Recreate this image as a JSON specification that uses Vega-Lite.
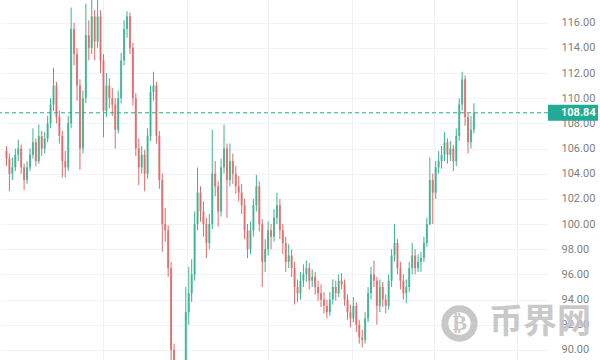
{
  "$schema": "https://vega.github.io/schema/vega-lite/v6.json",
  "width": 548,
  "height": 360,
  "autosize": {"type": "none"},
  "padding": {"left": 0, "top": 0, "right": 52, "bottom": 0},
  "background": "#ffffff",
  "config": {"view": {"stroke": null}, "axisY": {"labelOverlap": false, "labelSeparation": 0}},
  "datasets": {
    "candles": [
      {"i":0,"o":105.8,"h":106.2,"l":104.6,"c":105.2},
      {"i":1,"o":105.2,"h":105.6,"l":102.6,"c":104.0},
      {"i":2,"o":104.0,"h":105.3,"l":103.5,"c":104.5},
      {"i":3,"o":104.5,"h":106.0,"l":104.2,"c":105.5},
      {"i":4,"o":105.5,"h":106.7,"l":105.0,"c":106.0},
      {"i":5,"o":106.0,"h":106.3,"l":104.0,"c":104.5},
      {"i":6,"o":104.5,"h":104.8,"l":102.7,"c":103.5},
      {"i":7,"o":103.5,"h":105.0,"l":103.2,"c":104.5},
      {"i":8,"o":104.5,"h":106.0,"l":104.2,"c":105.5},
      {"i":9,"o":105.5,"h":107.6,"l":105.2,"c":106.5},
      {"i":10,"o":106.5,"h":106.8,"l":104.6,"c":105.0},
      {"i":11,"o":105.0,"h":107.9,"l":104.8,"c":107.0},
      {"i":12,"o":107.0,"h":107.4,"l":105.4,"c":106.0},
      {"i":13,"o":106.0,"h":107.3,"l":105.6,"c":106.8},
      {"i":14,"o":106.8,"h":108.6,"l":106.5,"c":108.0},
      {"i":15,"o":108.0,"h":110.0,"l":107.6,"c":109.5},
      {"i":16,"o":109.5,"h":112.4,"l":109.0,"c":111.0},
      {"i":17,"o":111.0,"h":111.3,"l":108.0,"c":108.5},
      {"i":18,"o":108.5,"h":109.0,"l":106.4,"c":107.0},
      {"i":19,"o":107.0,"h":107.4,"l":103.7,"c":105.0},
      {"i":20,"o":105.0,"h":105.8,"l":103.7,"c":104.5},
      {"i":21,"o":104.5,"h":108.6,"l":104.2,"c":108.0},
      {"i":22,"o":108.0,"h":117.2,"l":107.6,"c":115.5},
      {"i":23,"o":115.5,"h":116.0,"l":112.6,"c":113.5},
      {"i":24,"o":113.5,"h":114.0,"l":109.8,"c":111.0},
      {"i":25,"o":111.0,"h":111.5,"l":104.3,"c":106.0},
      {"i":26,"o":106.0,"h":110.6,"l":105.6,"c":110.0},
      {"i":27,"o":110.0,"h":117.5,"l":109.6,"c":115.0},
      {"i":28,"o":115.0,"h":116.2,"l":113.0,"c":114.0},
      {"i":29,"o":114.0,"h":118.2,"l":113.5,"c":116.5},
      {"i":30,"o":116.5,"h":117.0,"l":113.0,"c":114.5},
      {"i":31,"o":114.5,"h":118.2,"l":114.0,"c":116.5},
      {"i":32,"o":116.5,"h":117.0,"l":112.0,"c":113.0},
      {"i":33,"o":113.0,"h":113.5,"l":106.9,"c":109.0},
      {"i":34,"o":109.0,"h":112.0,"l":108.5,"c":111.0},
      {"i":35,"o":111.0,"h":111.6,"l":109.2,"c":110.0},
      {"i":36,"o":110.0,"h":110.8,"l":108.6,"c":109.5},
      {"i":37,"o":109.5,"h":110.0,"l":106.0,"c":107.5},
      {"i":38,"o":107.5,"h":110.6,"l":107.2,"c":110.0},
      {"i":39,"o":110.0,"h":113.6,"l":109.6,"c":113.0},
      {"i":40,"o":113.0,"h":116.2,"l":112.6,"c":115.5},
      {"i":41,"o":115.5,"h":116.9,"l":114.8,"c":116.5},
      {"i":42,"o":116.5,"h":116.8,"l":113.5,"c":114.0},
      {"i":43,"o":114.0,"h":114.4,"l":109.4,"c":110.0},
      {"i":44,"o":110.0,"h":110.4,"l":105.4,"c":106.0},
      {"i":45,"o":106.0,"h":106.8,"l":103.1,"c":104.5},
      {"i":46,"o":104.5,"h":106.2,"l":104.0,"c":105.5},
      {"i":47,"o":105.5,"h":105.9,"l":102.6,"c":104.0},
      {"i":48,"o":104.0,"h":107.6,"l":103.6,"c":107.0},
      {"i":49,"o":107.0,"h":111.0,"l":106.6,"c":110.5},
      {"i":50,"o":110.5,"h":112.1,"l":109.8,"c":111.0},
      {"i":51,"o":111.0,"h":111.3,"l":106.4,"c":107.0},
      {"i":52,"o":107.0,"h":107.4,"l":102.8,"c":103.5},
      {"i":53,"o":103.5,"h":104.0,"l":97.8,"c":100.0},
      {"i":54,"o":100.0,"h":101.3,"l":98.6,"c":99.5},
      {"i":55,"o":99.5,"h":99.9,"l":95.8,"c":96.5},
      {"i":56,"o":96.5,"h":97.0,"l":88.5,"c":90.0},
      {"i":57,"o":90.0,"h":90.5,"l":87.0,"c":88.0},
      {"i":58,"o":88.0,"h":88.8,"l":86.5,"c":87.5},
      {"i":59,"o":87.5,"h":88.5,"l":86.2,"c":87.0},
      {"i":60,"o":87.0,"h":89.0,"l":86.5,"c":88.5},
      {"i":61,"o":88.5,"h":95.0,"l":88.0,"c":93.0},
      {"i":62,"o":93.0,"h":96.6,"l":92.0,"c":94.5},
      {"i":63,"o":94.5,"h":97.2,"l":93.8,"c":96.0},
      {"i":64,"o":96.0,"h":101.0,"l":95.5,"c":100.0},
      {"i":65,"o":100.0,"h":104.5,"l":99.5,"c":102.5},
      {"i":66,"o":102.5,"h":103.0,"l":100.2,"c":101.0},
      {"i":67,"o":101.0,"h":101.8,"l":99.0,"c":100.0},
      {"i":68,"o":100.0,"h":100.5,"l":97.3,"c":98.5},
      {"i":69,"o":98.5,"h":100.8,"l":98.0,"c":100.0},
      {"i":70,"o":100.0,"h":107.5,"l":99.6,"c":104.0},
      {"i":71,"o":104.0,"h":105.0,"l":102.2,"c":103.0},
      {"i":72,"o":103.0,"h":103.4,"l":99.8,"c":101.0},
      {"i":73,"o":101.0,"h":105.2,"l":100.6,"c":104.5},
      {"i":74,"o":104.5,"h":107.9,"l":104.0,"c":106.0},
      {"i":75,"o":106.0,"h":106.4,"l":100.5,"c":103.5},
      {"i":76,"o":103.5,"h":106.4,"l":103.0,"c":105.0},
      {"i":77,"o":105.0,"h":105.6,"l":103.2,"c":104.0},
      {"i":78,"o":104.0,"h":104.6,"l":102.4,"c":103.0},
      {"i":79,"o":103.0,"h":103.8,"l":101.8,"c":102.5},
      {"i":80,"o":102.5,"h":103.2,"l":100.8,"c":101.5},
      {"i":81,"o":101.5,"h":102.0,"l":98.8,"c":99.5},
      {"i":82,"o":99.5,"h":100.0,"l":97.3,"c":98.0},
      {"i":83,"o":98.0,"h":100.2,"l":97.6,"c":99.5},
      {"i":84,"o":99.5,"h":102.0,"l":99.0,"c":101.5},
      {"i":85,"o":101.5,"h":103.9,"l":101.0,"c":103.0},
      {"i":86,"o":103.0,"h":103.4,"l":99.4,"c":100.0},
      {"i":87,"o":100.0,"h":100.4,"l":95.0,"c":97.0},
      {"i":88,"o":97.0,"h":98.8,"l":96.2,"c":98.0},
      {"i":89,"o":98.0,"h":100.2,"l":97.5,"c":99.5},
      {"i":90,"o":99.5,"h":100.0,"l":98.0,"c":99.0},
      {"i":91,"o":99.0,"h":101.2,"l":98.6,"c":100.5},
      {"i":92,"o":100.5,"h":102.5,"l":100.0,"c":101.5},
      {"i":93,"o":101.5,"h":102.0,"l":98.8,"c":99.5},
      {"i":94,"o":99.5,"h":100.0,"l":97.6,"c":98.5},
      {"i":95,"o":98.5,"h":99.0,"l":96.2,"c":97.0},
      {"i":96,"o":97.0,"h":98.4,"l":96.5,"c":97.5},
      {"i":97,"o":97.5,"h":98.0,"l":95.8,"c":96.5},
      {"i":98,"o":96.5,"h":97.0,"l":93.6,"c":95.0},
      {"i":99,"o":95.0,"h":95.6,"l":93.8,"c":94.5},
      {"i":100,"o":94.5,"h":96.2,"l":94.0,"c":95.5},
      {"i":101,"o":95.5,"h":96.8,"l":95.0,"c":96.0},
      {"i":102,"o":96.0,"h":97.1,"l":95.4,"c":96.5},
      {"i":103,"o":96.5,"h":96.9,"l":94.8,"c":95.5},
      {"i":104,"o":95.5,"h":96.4,"l":95.0,"c":95.8},
      {"i":105,"o":95.8,"h":96.2,"l":94.4,"c":95.0},
      {"i":106,"o":95.0,"h":95.5,"l":93.9,"c":94.5},
      {"i":107,"o":94.5,"h":95.2,"l":93.4,"c":94.0},
      {"i":108,"o":94.0,"h":94.6,"l":92.9,"c":93.5},
      {"i":109,"o":93.5,"h":94.0,"l":92.5,"c":93.0},
      {"i":110,"o":93.0,"h":94.6,"l":92.7,"c":94.0},
      {"i":111,"o":94.0,"h":95.6,"l":93.6,"c":95.0},
      {"i":112,"o":95.0,"h":95.5,"l":93.9,"c":94.5},
      {"i":113,"o":94.5,"h":96.0,"l":94.2,"c":95.5},
      {"i":114,"o":95.5,"h":96.1,"l":94.8,"c":95.2},
      {"i":115,"o":95.2,"h":95.6,"l":93.5,"c":94.0},
      {"i":116,"o":94.0,"h":94.4,"l":92.4,"c":93.0},
      {"i":117,"o":93.0,"h":93.6,"l":91.8,"c":92.5},
      {"i":118,"o":92.5,"h":94.2,"l":92.2,"c":93.5},
      {"i":119,"o":93.5,"h":93.8,"l":91.4,"c":92.0},
      {"i":120,"o":92.0,"h":92.4,"l":90.5,"c":91.0},
      {"i":121,"o":91.0,"h":91.6,"l":90.2,"c":90.8},
      {"i":122,"o":90.8,"h":93.0,"l":90.5,"c":92.5},
      {"i":123,"o":92.5,"h":95.0,"l":92.2,"c":94.5},
      {"i":124,"o":94.5,"h":96.6,"l":94.0,"c":96.0},
      {"i":125,"o":96.0,"h":97.1,"l":95.0,"c":95.5},
      {"i":126,"o":95.5,"h":95.8,"l":92.0,"c":93.5},
      {"i":127,"o":93.5,"h":95.6,"l":93.0,"c":95.0},
      {"i":128,"o":95.0,"h":95.4,"l":93.4,"c":94.0},
      {"i":129,"o":94.0,"h":94.4,"l":92.9,"c":93.5},
      {"i":130,"o":93.5,"h":96.0,"l":93.2,"c":95.5},
      {"i":131,"o":95.5,"h":98.0,"l":95.0,"c":97.5},
      {"i":132,"o":97.5,"h":100.0,"l":97.0,"c":98.5},
      {"i":133,"o":98.5,"h":98.8,"l":96.0,"c":96.5},
      {"i":134,"o":96.5,"h":97.0,"l":94.8,"c":95.5},
      {"i":135,"o":95.5,"h":96.0,"l":94.0,"c":94.5},
      {"i":136,"o":94.5,"h":95.6,"l":93.7,"c":95.0},
      {"i":137,"o":95.0,"h":97.0,"l":94.6,"c":96.5},
      {"i":138,"o":96.5,"h":98.5,"l":96.0,"c":97.5},
      {"i":139,"o":97.5,"h":98.0,"l":96.0,"c":96.5},
      {"i":140,"o":96.5,"h":97.6,"l":96.2,"c":97.0},
      {"i":141,"o":97.0,"h":97.8,"l":96.2,"c":97.3},
      {"i":142,"o":97.3,"h":99.0,"l":97.0,"c":98.5},
      {"i":143,"o":98.5,"h":100.5,"l":98.2,"c":100.0},
      {"i":144,"o":100.0,"h":105.3,"l":99.9,"c":103.5},
      {"i":145,"o":103.5,"h":104.0,"l":100.0,"c":102.5},
      {"i":146,"o":102.5,"h":105.0,"l":102.0,"c":104.5},
      {"i":147,"o":104.5,"h":105.8,"l":104.0,"c":105.0},
      {"i":148,"o":105.0,"h":106.2,"l":104.4,"c":105.5},
      {"i":149,"o":105.5,"h":107.3,"l":105.0,"c":106.5},
      {"i":150,"o":106.5,"h":106.8,"l":104.8,"c":105.5},
      {"i":151,"o":105.5,"h":106.6,"l":105.0,"c":106.0},
      {"i":152,"o":106.0,"h":106.3,"l":104.2,"c":105.0},
      {"i":153,"o":105.0,"h":107.6,"l":104.6,"c":107.0},
      {"i":154,"o":107.0,"h":110.0,"l":106.6,"c":109.5},
      {"i":155,"o":109.5,"h":112.1,"l":109.0,"c":111.5},
      {"i":156,"o":111.5,"h":111.8,"l":107.8,"c":108.5},
      {"i":157,"o":108.5,"h":108.8,"l":105.6,"c":106.5},
      {"i":158,"o":106.5,"h":108.6,"l":106.0,"c":107.5},
      {"i":159,"o":107.5,"h":109.6,"l":107.2,"c":108.84}
    ],
    "last": [{"price": 108.84}],
    "logo": [{"i": 154.1, "p": 92.1, "t": "₿"}],
    "brand": [{"i": 164.1, "p": 92.1, "t": "币界网"}]
  },
  "encoding": {
    "y": {"type": "quantitative",
          "scale": {"domain": [89.2, 117.8], "nice": false, "zero": false},
          "axis": {"orient": "right", "values": [90,92,94,96,98,100,102,104,106,108,110,112,114,116], "format": ".2f", "title": null, "domain": false, "ticks": false, "labelPadding": 13, "labelOverlap": false, "labelColor": "#7f7f7f", "labelFontSize": 11, "labelFont": "Roboto", "grid": true, "gridColor": "#f0f3f7"}}
  },
  "layer": [
    {
      "data": {"name": "candles"},
      "mark": {"type": "rule", "clip": true, "strokeWidth": 1},
      "encoding": {
        "x": {"field": "i", "type": "quantitative",
              "scale": {"domain": [-0.5, 182.5], "nice": false, "zero": false},
              "axis": {"values": [32.9, 61.3, 89.1, 117.4, 145.4, 173.8], "labels": false, "ticks": false, "domain": false, "title": null, "grid": true, "gridColor": "#eef1f5"}},
        "y": {"field": "l", "type": "quantitative"},
        "y2": {"field": "h"},
        "color": {"condition": {"test": "datum.c >= datum.o", "value": "#3cb391"}, "value": "#e06a6a"}
      }
    },
    {
      "data": {"name": "candles"},
      "mark": {"type": "bar", "clip": true, "width": 2},
      "encoding": {
        "x": {"field": "i", "type": "quantitative"},
        "y": {"field": "o", "type": "quantitative"},
        "y2": {"field": "c"},
        "color": {"condition": {"test": "datum.c >= datum.o", "value": "#3cb391"}, "value": "#e06a6a"},
        "opacity": {"value": 0.85}
      }
    },
    {
      "data": {"name": "last"},
      "mark": {"type": "rule", "strokeDash": [4, 3], "color": "#22ab94", "strokeWidth": 1},
      "encoding": {"y": {"field": "price", "type": "quantitative"}}
    },
    {
      "data": {"name": "last"},
      "mark": {"type": "point", "shape": "M0,-0.32H2V0.32H0Z", "filled": true, "color": "#22ab94", "opacity": 1, "size": 2500},
      "encoding": {"x": {"value": "width"}, "y": {"field": "price", "type": "quantitative"}}
    },
    {
      "data": {"name": "last"},
      "mark": {"type": "text", "align": "left", "dx": 13, "color": "#ffffff", "fontSize": 11, "fontWeight": "bold", "font": "Roboto"},
      "encoding": {"x": {"value": "width"}, "y": {"field": "price", "type": "quantitative"}, "text": {"field": "price", "type": "quantitative", "format": ".2f"}}
    },
    {
      "data": {"name": "logo"},
      "mark": {"type": "point", "shape": "circle", "filled": false, "strokeWidth": 7, "size": 860, "color": "#c8c8c8", "opacity": 1},
      "encoding": {"x": {"field": "i", "type": "quantitative"}, "y": {"field": "p", "type": "quantitative"}}
    },
    {
      "data": {"name": "logo"},
      "mark": {"type": "text", "fontSize": 22, "fontWeight": "bold", "color": "#c8c8c8", "font": "DejaVu Sans", "baseline": "middle"},
      "encoding": {"x": {"field": "i", "type": "quantitative"}, "y": {"field": "p", "type": "quantitative"}, "text": {"field": "t"}}
    },
    {
      "data": {"name": "brand"},
      "mark": {"type": "text", "fontSize": 34, "fontWeight": "bold", "color": "#c4c4c4", "opacity": 0.9, "font": "Noto Sans CJK SC", "align": "left", "baseline": "middle"},
      "encoding": {"x": {"field": "i", "type": "quantitative"}, "y": {"field": "p", "type": "quantitative"}, "text": {"field": "t"}}
    }
  ]
}
